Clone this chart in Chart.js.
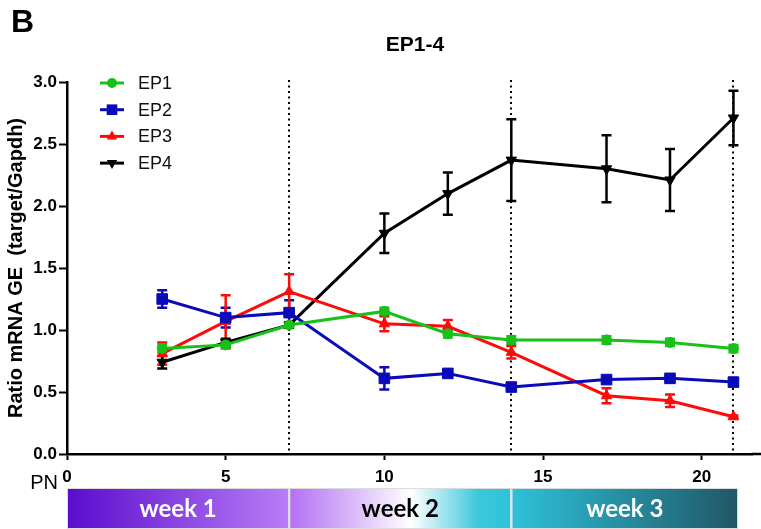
<!DOCTYPE html>
<html>
<head>
<meta charset="utf-8">
<script src="https://cdn.jsdelivr.net/npm/chart.js@4/dist/chart.umd.min.js"></script>
<style>
	body { margin: 0; background: #fff; }
	#epChart { display: block; }
</style>
</head>
<body>
<canvas id="epChart" width="761" height="529"></canvas>
<script>
// ================================ [ Data ] ================================
const days = [3, 5, 7, 10, 12, 14, 17, 19, 21];

const ep1 = [0.85, 0.88, 1.04, 1.15, 0.97, 0.92, 0.92, 0.90, 0.85];
const ep1Err = [0.03, 0.03, 0.02, 0.03, 0.03, 0.03, 0.03, 0.03, 0.03];

const ep2 = [1.25, 1.10, 1.14, 0.61, 0.65, 0.54, 0.60, 0.61, 0.58];
const ep2Err = [0.07, 0.08, 0.10, 0.09, 0.03, 0.02, 0.02, 0.03, 0.03];

const ep3 = [0.81, 1.07, 1.31, 1.05, 1.03, 0.82, 0.47, 0.43, 0.30];
const ep3Err = [0.09, 0.21, 0.14, 0.06, 0.05, 0.05, 0.06, 0.05, 0.01];

const ep4 = [0.74, 0.90, 1.04, 1.78, 2.10, 2.37, 2.30, 2.21, 2.71];
const ep4Err = [0.05, 0.03, 0.02, 0.16, 0.17, 0.33, 0.27, 0.25, 0.22];

const seriesLabels = ["EP1", "EP2", "EP3", "EP4"];
const yTicks = [0, 0.5, 1.0, 1.5, 2.0, 2.5, 3.0];
const xTicks = [0, 5, 10, 15, 20];
const weekMarks = [7, 14, 21];
const weekBounds = [0, 7, 14, 21.15];
const weekLabels = ["week 1", "week 2", "week 3"];

// ================================ [ Styles ] ================================
const seriesColors = ["#17c117", "#0a0ab8", "#ff0a0a", "#000000"];
const seriesPoints = ["circle", "rect", "triangle", "triangle"];
const seriesRotation = [0, 0, 0, 180];
const seriesRadius = [5, 7.5, 6, 6];
const seriesErr = [ep1Err, ep2Err, ep3Err, ep4Err];
const seriesVals = [ep1, ep2, ep3, ep4];

const toPoints = (vals) => days.map((d, i) => ({ x: d, y: vals[i] }));

const datasets = seriesLabels.map((label, i) => ({
	label: label,
	data: toPoints(seriesVals[i]),
	errors: seriesErr[i],
	borderColor: seriesColors[i],
	backgroundColor: seriesColors[i],
	borderWidth: 3,
	pointStyle: seriesPoints[i],
	pointRotation: seriesRotation[i],
	pointRadius: seriesRadius[i],
	pointBorderWidth: 1,
	tension: 0,
	clip: false
}));

// marker for legend
const drawMarker = (ctx, style, rot, x, y, r, color) => {
	ctx.save();
	ctx.fillStyle = color;
	ctx.translate(x, y);
	ctx.rotate(rot * Math.PI / 180);
	ctx.beginPath();
	if (style === "circle") {
		ctx.arc(0, 0, r, 0, Math.PI * 2);
	} else if (style === "rect") {
		const s = r * Math.SQRT1_2;
		ctx.rect(-s, -s, s * 2, s * 2);
	} else {
		ctx.moveTo(0, -r);
		ctx.lineTo(r * 0.866, r * 0.5);
		ctx.lineTo(-r * 0.866, r * 0.5);
		ctx.closePath();
	}
	ctx.fill();
	ctx.restore();
};

// error bars, dotted week lines, week bar, legend, labels
const extrasPlugin = {
	id: "extras",
	beforeDatasetsDraw(chart) {
		const { ctx, chartArea, scales: { x, y } } = chart;

		// axis line runs on to the right edge
		ctx.save();
		ctx.strokeStyle = "#000";
		ctx.lineWidth = 2.5;
		ctx.beginPath();
		ctx.moveTo(chartArea.right - 1, chartArea.bottom);
		ctx.lineTo(chart.width, chartArea.bottom);
		ctx.stroke();
		ctx.restore();

		// dotted lines at end of each week
		ctx.save();
		ctx.strokeStyle = "#000";
		ctx.lineWidth = 2;
		ctx.setLineDash([2, 3.5]);
		weekMarks.forEach((w) => {
			const px = Math.round(x.getPixelForValue(w));
			ctx.beginPath();
			ctx.moveTo(px, y.getPixelForValue(3.0) - 2);
			ctx.lineTo(px, chartArea.bottom - 2);
			ctx.stroke();
		});
		ctx.restore();

		// error bars
		chart.data.datasets.forEach((ds) => {
			ctx.save();
			ctx.strokeStyle = ds.borderColor;
			ctx.lineWidth = 2.5;
			ds.data.forEach((p, i) => {
				const e = ds.errors[i];
				const px = x.getPixelForValue(p.x);
				const top = y.getPixelForValue(p.y + e);
				const bot = y.getPixelForValue(p.y - e);
				ctx.beginPath();
				ctx.moveTo(px, top);
				ctx.lineTo(px, bot);
				ctx.moveTo(px - 5, top);
				ctx.lineTo(px + 5, top);
				ctx.moveTo(px - 5, bot);
				ctx.lineTo(px + 5, bot);
				ctx.stroke();
			});
			ctx.restore();
		});
	},
	afterDraw(chart) {
		const { ctx, scales: { x } } = chart;
		ctx.save();

		// panel letter and title
		ctx.fillStyle = "#000";
		ctx.textBaseline = "middle";
		ctx.textAlign = "left";
		ctx.font = "bold 32px 'Liberation Sans', Arial, sans-serif";
		ctx.fillText("B", 11, 23);
		ctx.textAlign = "center";
		ctx.font = "bold 21px 'Liberation Sans', Arial, sans-serif";
		ctx.fillText("EP1-4", 415, 45);

		// PN label
		ctx.textAlign = "right";
		ctx.font = "20px 'Liberation Sans', Arial, sans-serif";
		ctx.fillText("PN", 58, 483);

		// legend
		ctx.textAlign = "left";
		ctx.font = "18px 'Liberation Sans', Arial, sans-serif";
		chart.data.datasets.forEach((ds, i) => {
			const ly = 83 + i * 26.7;
			ctx.strokeStyle = ds.borderColor;
			ctx.lineWidth = 3;
			ctx.beginPath();
			ctx.moveTo(100, ly);
			ctx.lineTo(124, ly);
			ctx.stroke();
			drawMarker(ctx, seriesPoints[i], seriesRotation[i], 112, ly, seriesRadius[i], ds.borderColor);
			ctx.fillStyle = "#111";
			ctx.fillText(ds.label, 138, ly + 1);
		});

		// week bar
		const barTop = 489;
		const barH = 39;
		const stops = [
			[[0, "#5a0ccd"], [1, "#ba7df7"]],
			[[0, "#b26ff5"], [0.55, "#ffffff"], [0.85, "#3cc8dc"], [1, "#2cc3d8"]],
			[[0, "#2dc2d9"], [1, "#205766"]]
		];
		const textColors = ["#ffffff", "#000000", "#ffffff"];
		weekLabels.forEach((lab, i) => {
			const x0 = x.getPixelForValue(weekBounds[i]);
			const x1 = x.getPixelForValue(weekBounds[i + 1]);
			const grad = ctx.createLinearGradient(x0, 0, x1, 0);
			stops[i].forEach((s) => grad.addColorStop(s[0], s[1]));
			ctx.fillStyle = grad;
			ctx.fillRect(x0 + 1, barTop, x1 - x0 - 2, barH);
			ctx.strokeStyle = "#dcdcdc";
			ctx.lineWidth = 1;
			ctx.strokeRect(x0 + 0.5, barTop - 0.5, x1 - x0 - 1, barH + 1);
			ctx.fillStyle = textColors[i];
			ctx.textAlign = "center";
			ctx.font = "bold 24px Lato, 'Open Sans', sans-serif";
			ctx.fillText(lab, (x0 + x1) / 2, barTop + barH / 2 + 1);
		});

		ctx.restore();
	}
};

const tickFont = { family: "'Liberation Sans', Arial, sans-serif", size: 17, weight: "bold" };

new Chart(document.getElementById("epChart"), {
	type: "line",
	data: { datasets: datasets },
	options: {
		responsive: false,
		animation: false,
		layout: { padding: { top: 82, left: 0, right: 0, bottom: 45 } },
		plugins: {
			legend: { display: false },
			title: { display: false },
			tooltip: { enabled: false }
		},
		scales: {
			x: {
				type: "linear",
				min: 0,
				max: 21.6,
				afterFit: (scale) => { scale.height = 30; },
				afterBuildTicks: (scale) => { scale.ticks = xTicks.map((v) => ({ value: v })); },
				ticks: { color: "#000", font: tickFont, padding: 7, includeBounds: false, maxRotation: 0 },
				grid: { drawOnChartArea: false, drawTicks: true, tickLength: 6, tickWidth: 2, tickColor: "#000" },
				border: { display: true, color: "#000", width: 2.5 }
			},
			y: {
				min: 0,
				max: 3,
				afterFit: (scale) => { scale.width = 67; },
				afterBuildTicks: (scale) => { scale.ticks = yTicks.map((v) => ({ value: v })); },
				ticks: { color: "#000", font: tickFont, padding: 2, callback: (v) => v.toFixed(1) },
				grid: { drawOnChartArea: false, drawTicks: true, tickLength: 8, tickWidth: 2, tickColor: "#000" },
				border: { display: true, color: "#000", width: 2.5 },
				title: {
					display: true,
					text: "Ratio mRNA GE  (target/Gapdh)",
					color: "#000",
					font: { family: "'Liberation Sans', Arial, sans-serif", size: 20, weight: "bold" },
					padding: { top: 4, bottom: 0 }
				}
			}
		}
	},
	plugins: [extrasPlugin]
});
</script>
</body>
</html>
